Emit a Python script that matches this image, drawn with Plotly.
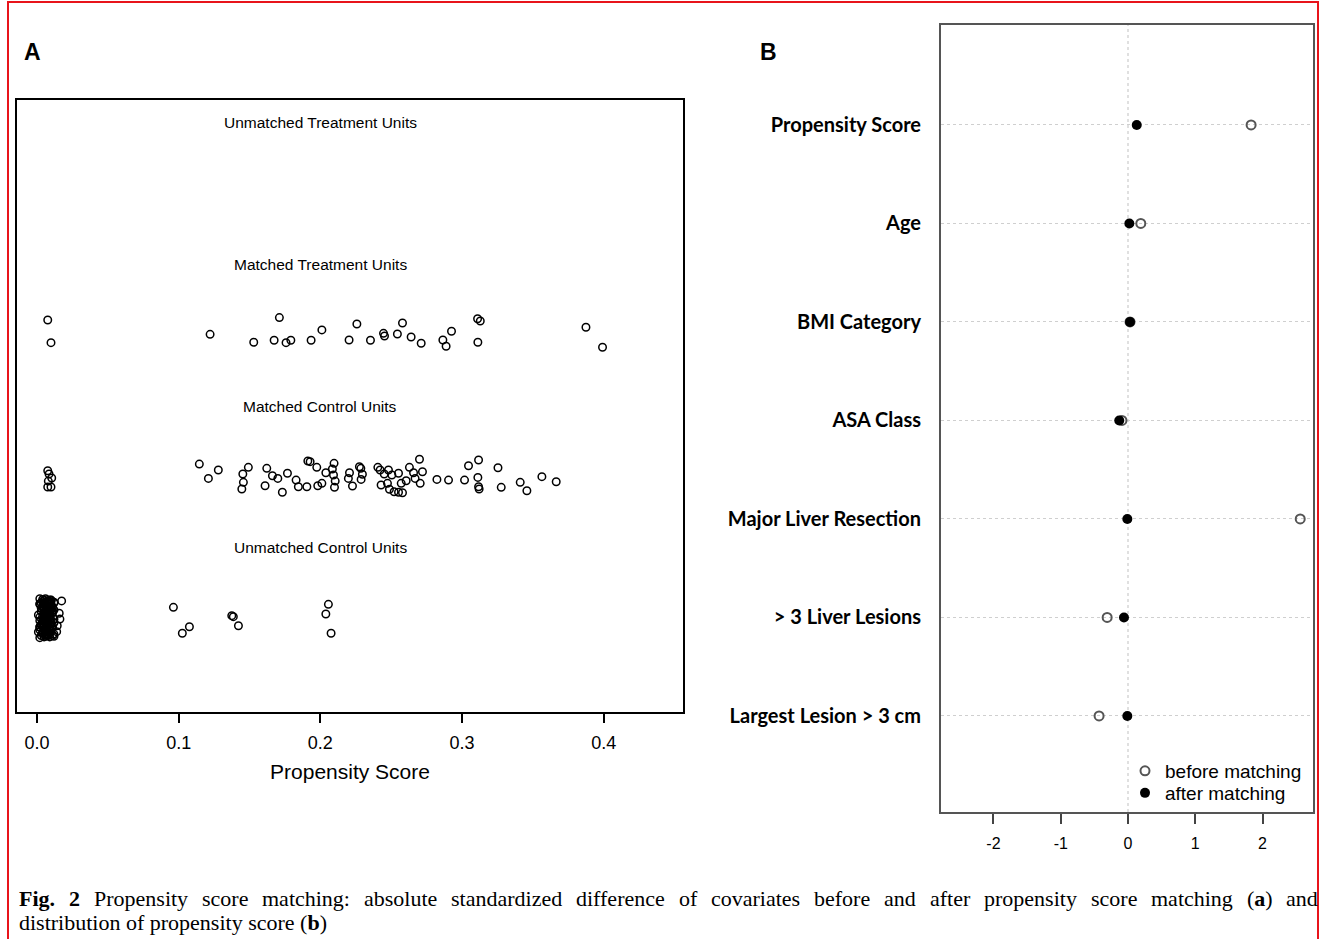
import plotly.graph_objects as go

W, H = 1320, 939

# ---------------- Panel A data (propensity score jitter plot) ----------------
group_names = ["Unmatched Control Units", "Matched Control Units",
               "Matched Treatment Units", "Unmatched Treatment Units"]
group_levels = [1, 2, 3, 4]

mt_ps = [0.0076, 0.0099, 0.1222, 0.1711, 0.1530, 0.1674, 0.1758, 0.1792, 0.1935, 0.2011,
         0.2258, 0.2203, 0.2354, 0.2446, 0.2453, 0.2544, 0.2580, 0.2641, 0.2712, 0.2865,
         0.2888, 0.2926, 0.3110, 0.3129, 0.3112, 0.3875, 0.3992]
mt_jit = [0.107, -0.053, 0.006, 0.124, -0.050, -0.036, -0.053, -0.036, -0.036, 0.037,
          0.079, -0.034, -0.036, 0.013, -0.006, 0.008, 0.086, -0.013, -0.057, -0.034,
          -0.078, 0.028, 0.116, 0.100, -0.050, 0.056, -0.085]

mc_ps = [0.0076, 0.0085, 0.0104, 0.0080, 0.0076, 0.0099, 0.1146, 0.1210, 0.1280, 0.1492,
         0.1453, 0.1457, 0.1446, 0.1622, 0.1662, 0.1700, 0.1610, 0.1732, 0.1768, 0.1829,
         0.1845, 0.1905, 0.1912, 0.1928, 0.1975, 0.1982, 0.2011, 0.2039, 0.2097, 0.2085,
         0.2093, 0.2105, 0.2100, 0.2206, 0.2198, 0.2227, 0.2276, 0.2286, 0.2297, 0.2288,
         0.2406, 0.2422, 0.2451, 0.2481, 0.2505, 0.2552, 0.2429, 0.2474, 0.2488, 0.2521,
         0.2552, 0.2580, 0.2571, 0.2606, 0.2629, 0.2658, 0.2669, 0.2700, 0.2721, 0.2705,
         0.2823, 0.2905, 0.3018, 0.3046, 0.3117, 0.3112, 0.3117, 0.3121, 0.3254, 0.3277,
         0.3411, 0.3458, 0.3564, 0.3665]
mc_jit = [0.043, 0.020, -0.008, -0.030, -0.072, -0.072, 0.090, -0.011, 0.048, 0.067,
          0.020, -0.039, -0.086, 0.060, 0.008, -0.011, -0.063, -0.109, 0.025, -0.023,
          -0.070, -0.070, 0.112, 0.107, 0.067, -0.063, -0.046, 0.029, 0.095, 0.055,
          0.013, -0.030, -0.074, 0.029, -0.011, -0.065, 0.071, 0.060, 0.018, -0.018,
          0.067, 0.048, 0.020, 0.048, 0.013, 0.025, -0.058, -0.046, -0.088, -0.105,
          -0.109, -0.112, -0.046, -0.028, 0.067, 0.029, -0.011, 0.124, 0.036, -0.046,
          -0.018, -0.023, -0.023, 0.078, 0.119, -0.004, -0.070, -0.086, 0.064, -0.074,
          -0.039, -0.098, 0.001, -0.035]

uc_ps = [0.0963, 0.1026, 0.1076, 0.1375, 0.1386, 0.1422, 0.2057, 0.2039, 0.2076, 0.0174,
         0.0157, 0.0162, 0.0143, 0.0139,
         0.002, 0.006, 0.010, 0.004, 0.008, 0.012, 0.002, 0.006, 0.010, 0.004,
         0.008, 0.012, 0.003, 0.007, 0.011, 0.005, 0.009, 0.002, 0.006, 0.010,
         0.004, 0.008, 0.012, 0.003, 0.007, 0.011, 0.005, 0.009, 0.002, 0.006,
         0.010, 0.004, 0.008, 0.012, 0.003, 0.007, 0.011, 0.005, 0.009, 0.002,
         0.006, 0.010,
         0.004, 0.008, 0.012, 0.002, 0.006, 0.010, 0.003, 0.007, 0.011, 0.005,
         0.009, 0.001, 0.004, 0.008, 0.012, 0.002, 0.006, 0.010, 0.003, 0.007,
         0.011, 0.005, 0.009, 0.001, 0.004, 0.008, 0.012, 0.002, 0.006, 0.010,
         0.003, 0.007, 0.011, 0.005, 0.009, 0.004, 0.008, 0.006, 0.010, 0.002,
         0.005, 0.007, 0.009, 0.005, 0.007, 0.009, 0.005, 0.007, 0.009, 0.005,
         0.007, 0.009, 0.005, 0.007, 0.009, 0.005, 0.007, 0.009, 0.005, 0.007,
         0.009, 0.005, 0.007, 0.009, 0.006, 0.008, 0.006, 0.008, 0.006, 0.008]
uc_jit = [0.079, -0.104, -0.058, 0.020, 0.013, -0.051, 0.100, 0.032, -0.104, 0.124,
          0.037, -0.004, -0.051, -0.093,
          0.14, 0.14, 0.13, 0.12, 0.12, 0.11, 0.10, 0.09, 0.09, 0.08,
          0.07, 0.06, 0.05, 0.05, 0.04, 0.03, 0.02, 0.01, 0.00, -0.01,
          -0.02, -0.02, -0.03, -0.04, -0.05, -0.05, -0.06, -0.07, -0.08, -0.08,
          -0.09, -0.10, -0.10, -0.11, -0.12, -0.12, -0.12, -0.13, -0.13, -0.06,
          0.03, 0.10,
          0.135, 0.125, 0.115, 0.105, 0.095, 0.085, 0.075, 0.065, 0.055, 0.045,
          0.035, 0.025, 0.015, 0.005, -0.005, -0.015, -0.025, -0.035, -0.045, -0.055,
          -0.065, -0.075, -0.085, -0.095, -0.105, -0.115, -0.125, -0.135, -0.005, 0.060,
          0.110, -0.110, 0.080, -0.080, 0.130, -0.040, 0.040, -0.125, 0.125, -0.060,
          0.130, 0.120, 0.110, 0.100, 0.090, 0.080, 0.070, 0.060, 0.050, 0.040,
          0.030, 0.020, 0.010, 0.000, -0.010, -0.020, -0.030, -0.040, -0.050, -0.060,
          -0.070, -0.080, -0.090, -0.100, -0.110, -0.120, 0.115, -0.115, 0.045, -0.045]

ut_ps = []
ut_jit = []

ps_ticks = [0.0, 0.1, 0.2, 0.3, 0.4]
ps_ticklabels = ["0.0", "0.1", "0.2", "0.3", "0.4"]

# ---------------- Panel B data (standardized differences) ----------------
covariates = ["Propensity Score", "Age", "BMI Category", "ASA Class",
              "Major Liver Resection", "> 3 Liver Lesions", "Largest Lesion > 3 cm"]
before_matching = [1.83, 0.19, 0.03, -0.09, 2.56, -0.31, -0.43]
after_matching = [0.13, 0.02, 0.03, -0.13, -0.01, -0.06, -0.01]
sd_ticks = [-2, -1, 0, 1, 2]
sd_ticklabels = ["-2", "-1", "0", "1", "2"]

# ---------------- figure ----------------
def px_x(p):
    return p / W

def px_y(p):
    return 1 - p / H

fig = go.Figure()

open_marker = dict(symbol="circle-open", size=7.5, color="black", line=dict(width=1.5, color="black"))
series = [(uc_ps, uc_jit, 1), (mc_ps, mc_jit, 2), (mt_ps, mt_jit, 3), (ut_ps, ut_jit, 4)]
for xs, js, lvl in series:
    assert len(xs) == len(js)
    fig.add_trace(go.Scatter(x=xs, y=[lvl + j for j in js], mode="markers",
                             marker=open_marker, showlegend=False,
                             xaxis="x", yaxis="y", hoverinfo="x"))

fig.add_trace(go.Scatter(x=before_matching, y=covariates, mode="markers", name="before matching",
                         marker=dict(symbol="circle-open", size=9, color="#555555",
                                     line=dict(width=2, color="#555555")),
                         xaxis="x2", yaxis="y2", legend="legend"))
fig.add_trace(go.Scatter(x=after_matching, y=covariates, mode="markers", name="after matching",
                         marker=dict(symbol="circle", size=10, color="black"),
                         xaxis="x2", yaxis="y2", legend="legend2"))

annotations = []
for name, lvl in zip(group_names, group_levels):
    annotations.append(dict(x=0.2, y=lvl + 0.5, xref="x", yref="y", text=name, showarrow=False,
                            font=dict(family="Liberation Sans", size=15.5, color="black"),
                            xanchor="center", yanchor="middle"))

annotations.append(dict(x=px_x(22), y=px_y(52), xref="paper", yref="paper", text="<b>A</b>",
                        showarrow=False, xanchor="left", yanchor="middle",
                        font=dict(family="Liberation Sans", size=23, color="black")))
annotations.append(dict(x=px_x(758), y=px_y(52), xref="paper", yref="paper", text="<b>B</b>",
                        showarrow=False, xanchor="left", yanchor="middle",
                        font=dict(family="Liberation Sans", size=23, color="black")))

# Caption (justified first line)
CAP_SIZE = 22
TNR = {'a': 444, 'b': 500, 'c': 444, 'd': 500, 'e': 444, 'f': 333, 'g': 500, 'h': 500, 'i': 278,
       'j': 278, 'k': 500, 'l': 278, 'm': 778, 'n': 500, 'o': 500, 'p': 500, 'q': 500, 'r': 333,
       's': 389, 't': 278, 'u': 500, 'v': 500, 'w': 722, 'x': 500, 'y': 500, 'z': 444, ' ': 250,
       '.': 250, ':': 278, '(': 333, ')': 333, 'F': 556, 'P': 556, '2': 500}
TNRB = {'F': 611, 'i': 278, 'g': 500, '.': 250, '2': 500, 'a': 500, 'b': 556, ' ': 250}

def wwidth(plain, bold=""):
    return (sum(TNR.get(c, 500) for c in plain) + sum(TNRB.get(c, 500) for c in bold)) * CAP_SIZE / 1000

line1 = [("<b>Fig.</b>", wwidth("", "Fig.")), ("<b>2</b>", wwidth("", "2"))]
for w in "Propensity score matching: absolute standardized difference of covariates before and after propensity score matching".split():
    line1.append((w, wwidth(w)))
line1.append(("(<b>a</b>)", wwidth("()", "a")))
line1.append(("and", wwidth("and")))
left, right = 17, 1316
total = sum(w for _, w in line1)
gap = (right - left - total) / (len(line1) - 1)
cx = left
for txt, w in line1:
    annotations.append(dict(x=px_x(cx), y=px_y(898), xref="paper", yref="paper", text=txt,
                            showarrow=False, xanchor="left", yanchor="middle",
                            font=dict(family="Liberation Serif", size=CAP_SIZE, color="black")))
    cx += w + gap
annotations.append(dict(x=px_x(left), y=px_y(922), xref="paper", yref="paper",
                        text="distribution of propensity score (<b>b</b>)",
                        showarrow=False, xanchor="left", yanchor="middle",
                        font=dict(family="Liberation Serif", size=CAP_SIZE, color="black")))

shapes = [
    dict(type="line", xref="x2", yref="y2 domain", x0=0, x1=0, y0=0, y1=1,
         line=dict(color="#cccccc", width=1.2, dash="dot"), layer="below"),
    dict(type="rect", xref="paper", yref="paper", x0=px_x(8), x1=px_x(1318), y0=-0.01, y1=px_y(2),
         line=dict(color="#e8141b", width=2), layer="above"),
]

legend_font = dict(family="Liberation Sans", size=19, color="black")
fig.update_layout(
    width=W, height=H, autosize=False,
    margin=dict(l=0, r=0, t=0, b=0),
    paper_bgcolor="white", plot_bgcolor="white",
    font=dict(family="Liberation Sans", color="black"),
    xaxis=dict(domain=[px_x(17), px_x(683)], range=[-0.0141, 0.456], anchor="y",
               tickvals=ps_ticks, ticktext=ps_ticklabels, ticks="outside", ticklen=9, tickwidth=1.5,
               tickcolor="black", showline=True, linecolor="black", linewidth=1.5, mirror=True,
               showgrid=False, zeroline=False, ticklabelstandoff=5,
               tickfont=dict(family="Liberation Sans", size=18, color="black"),
               title=dict(text="Propensity Score", standoff=12,
                          font=dict(family="Liberation Sans", size=21, color="black"))),
    yaxis=dict(domain=[px_y(712), px_y(100)], range=[0.34, 4.66], anchor="x",
               showticklabels=False, ticks="", showline=True, linecolor="black", linewidth=1.5,
               mirror=True, showgrid=False, zeroline=False),
    xaxis2=dict(domain=[px_x(941), px_x(1313)], range=[-2.78, 2.75], anchor="y2",
                tickvals=sd_ticks, ticktext=sd_ticklabels, ticks="outside", ticklen=10, tickwidth=1.5,
                tickcolor="#444444", showline=True, linecolor="#555555", linewidth=2, mirror=True,
                showgrid=False, zeroline=False, ticklabelstandoff=6,
                tickfont=dict(family="Liberation Sans", size=16, color="black")),
    yaxis2=dict(domain=[px_y(812), px_y(25)], range=[-0.975, 7.015], anchor="x2",
                type="category", categoryorder="array", categoryarray=covariates[::-1],
                ticks="", showline=True, linecolor="#555555", linewidth=2, mirror=True,
                showgrid=True, gridcolor="#cfcfcf", griddash="dot", gridwidth=1.2,
                zeroline=False, ticklabelstandoff=14,
                tickfont=dict(family="Lato", size=20, color="black", weight="bold")),
    legend=dict(x=px_x(1125), y=px_y(752), xanchor="left", yanchor="top",
                bgcolor="rgba(0,0,0,0)", borderwidth=0, font=legend_font, itemwidth=30),
    legend2=dict(x=px_x(1125), y=px_y(774), xanchor="left", yanchor="top",
                 bgcolor="rgba(0,0,0,0)", borderwidth=0, font=legend_font, itemwidth=30),
    annotations=annotations,
    shapes=shapes,
)

fig.write_html("out.html", config={"displayModeBar": False},
               post_script="document.body.style.margin='0';")
